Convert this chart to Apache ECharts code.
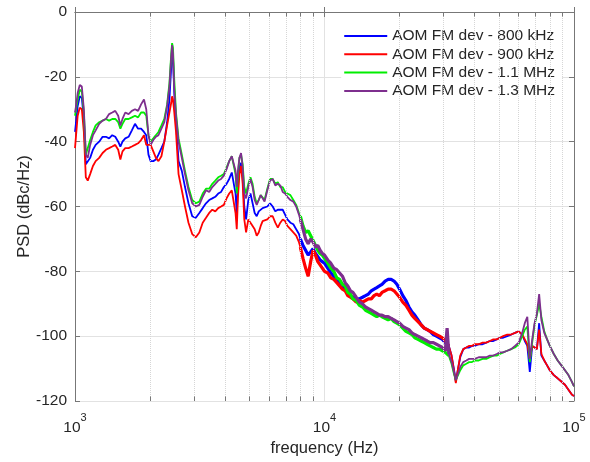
<!DOCTYPE html>
<html>
<head>
<meta charset="utf-8">
<script src="https://cdn.jsdelivr.net/npm/echarts@6/dist/echarts.min.js"></script>
</head>
<body style="margin: 0">
<div id="container" style="width: 590px; height: 462px"></div>
<script>
// frequency grid (Hz) shared by all four traces
var freqs = [
  1000, 1010, 1025, 1045, 1065, 1085, 1105, 1125, 1150, 1180,
  1210, 1250, 1290, 1330, 1370, 1410, 1450, 1490, 1520, 1550,
  1590, 1640, 1690, 1740, 1790, 1840, 1890, 1930, 1970, 2010,
  2060, 2110, 2160, 2220, 2280, 2340, 2390, 2430, 2450, 2470,
  2500, 2540,
  2600, 2680, 2760, 2850, 2950, 3050, 3150, 3250, 3350, 3450,
  3550, 3650, 3750, 3850, 3950, 4050, 4150, 4250, 4320, 4400,
  4450, 4500, 4560, 4630, 4700, 4770, 4850, 4950, 5050, 5150,
  5250, 5350, 5450, 5550, 5650, 5750, 5900, 6050, 6200, 6350,
  6500, 6650, 6800, 6950, 7100, 7300, 7500, 7700, 7900, 8000,
  8200, 8400, 8600, 8800, 9000, 9200, 9400, 9600, 9800, 10000,
  10300, 10600, 10900, 11200, 11500, 11800, 12100, 12400, 12700, 13000,
  13400, 13800, 14200, 14600, 15000, 15400, 15800, 16200, 16600, 17000,
  17500, 18000, 18500, 19000, 19500, 20000, 20600, 21200, 21800, 22400,
  23000, 23700, 24400, 25100, 25800, 26500, 27300, 28100, 28900, 29700,
  30500, 31000, 31500, 32300, 33000, 33600, 34300, 35000, 36000, 37000,
  38000, 39000, 40000, 41500, 43000, 44500, 46000, 47500, 49000, 50500,
  52000, 54000, 56000, 58000, 60000, 62000, 63500, 65000, 66500, 68000,
  69500, 71000, 72500, 74000, 76000, 78000, 80000, 83000, 86000, 89000,
  92000, 95000, 98000, 100000
];

// PSD values (dBc/Hz)
var dev800 = [
  -37, -34, -29, -26, -26.5, -33, -47, -47.5, -45, -42.5,
  -41, -40, -38.5, -38.5, -39, -38, -38.5, -40, -41.5, -40,
  -39, -38.5, -36.5, -34.5, -36, -36, -37, -38, -44, -46,
  -46, -45.5, -44, -42, -40, -34, -27, -17, -11, -14,
  -25, -34,
  -46, -49, -54, -59, -63, -63.5, -62, -60.5, -59, -58,
  -57.5, -57, -56, -55.5, -54, -53, -51.5, -49.5, -49, -56,
  -62, -54, -48, -46.5, -51, -60, -64, -58, -56, -59,
  -62, -63, -61.5, -61, -60.5, -61, -60, -59, -60, -61.5,
  -61, -61, -61, -62.5, -64, -65, -65.5, -67, -68.5, -70,
  -72, -73.5, -75, -74, -73, -74.5, -75.5, -76.5, -77, -77.5,
  -79, -80.5, -81.5, -82.5, -84, -84.5, -85.5, -86, -87.5, -88,
  -88.5, -88.5, -88, -87.5, -87, -86, -85.5, -85, -84.5, -84,
  -83, -82.5, -82.5, -83, -84, -85.5, -87.5, -89, -91, -92.5,
  -93.5, -95, -96.5, -97.5, -98, -98.5, -99.5, -100, -100.5, -101,
  -102, -102, -103, -106, -110, -114, -110, -106.5, -104, -103.5,
  -103.5, -103, -103, -102.5, -102.5, -102, -101.5, -101.5, -101, -100.5,
  -100.5, -100, -99.5, -99, -98.5, -99.5, -101.5, -103, -111, -103,
  -103.5, -104, -96, -106, -107.5, -109, -110.5, -112, -113, -114,
  -115, -116.5, -118, -118.5
];

var dev900 = [
  -42, -38, -32, -29.5, -30, -37, -51, -52, -50, -47.5,
  -46, -45, -43.5, -42.5, -42, -41.5, -41, -42.5, -45.5, -43,
  -42, -42, -41.5, -41, -40.5, -39.5, -38, -41, -41, -41,
  -43, -45, -46, -44.5, -40, -35, -31, -28, -26, -27,
  -31, -37,
  -50, -55, -60, -65, -68.5, -69.5, -68, -65, -63.5, -62,
  -61, -61.5, -60.5, -60, -59.5, -57.5, -56, -55, -54.5, -62,
  -67, -57, -50, -47.5, -53, -64, -68, -64, -65, -66,
  -67, -69, -68, -66, -64.5, -65, -64, -63, -63, -65,
  -66.5, -65, -64, -64.5, -66, -67, -68, -69, -71, -72.5,
  -76, -79, -81.5, -77, -73.5, -75, -77, -78, -79, -80,
  -80.5, -82, -82.5, -83.5, -84.5, -85.5, -86, -87.5, -88, -88.5,
  -89.5, -89, -89.5, -89, -88.5, -88.5, -87.5, -87, -87.5, -86.5,
  -86, -85.5, -85.5, -86, -87, -88, -89.5, -90.5, -92, -93.5,
  -94.5, -95.5, -96.5, -97.5, -98, -98.5, -99, -99.5, -100, -100.5,
  -101.5, -102, -103, -106, -110.5, -114.5, -110, -106, -104, -103.5,
  -103, -103, -102.5, -102.5, -102, -102, -101.5, -101, -101, -100.5,
  -100, -99.5, -99.5, -99, -98.5, -99.5, -101, -102.5, -107, -103,
  -103.5, -104, -98, -105.5, -107.5, -109, -110.5, -112, -113, -114,
  -115, -116.5, -118, -118.5
];

var dev1100 = [
  -32, -30, -27, -24, -24.5, -31, -44, -44, -39.5, -37,
  -35, -34, -33.5, -33, -33.5, -33, -33, -34, -36, -34.5,
  -33, -33, -32.5, -32, -32.5, -31, -31, -32, -38, -40,
  -39, -38, -37, -35, -33, -28.5, -22, -13, -9.6, -11,
  -21, -31,
  -39, -44, -49, -54, -58, -59, -58.5, -56, -54.5, -54.5,
  -53, -52, -51, -50.5, -50, -48, -46, -44.5, -44, -50,
  -56, -50, -45, -44, -47, -54, -56, -53, -51, -53,
  -57, -59, -58, -56.5, -57, -58, -54.5, -51.5, -51.5, -53,
  -52.5, -54, -54, -55.5, -56, -56.5, -58, -59.5, -62, -63,
  -66, -68, -67.5, -69, -70.5, -72, -73.5, -74.5, -75, -76,
  -77.5, -79, -80, -82, -82.5, -84, -84.5, -86.5, -87, -88.5,
  -89, -90.5, -91, -92, -92.5, -93, -93.5, -94, -93.5, -94,
  -94.5, -95, -94.5, -95.5, -96, -96.5, -97.5, -98.5, -99, -99.5,
  -100.5, -101, -101.5, -102, -102.5, -103, -103.5, -104, -104, -104.5,
  -105, -104.5, -106, -108.5, -111.5, -113.5, -112, -110.5, -109, -108.5,
  -108, -108, -107.5, -107.5, -107, -107, -106.5, -106, -106, -105.5,
  -105, -104.5, -104, -103.5, -102.5, -100, -98, -97, -108, -102,
  -96.5, -93.5, -90, -94, -98.5, -101, -103, -105.5, -107.5, -109,
  -110.5, -112, -114, -115.5
];

var dev1300 = [
  -31, -29, -25, -22.5, -23, -30, -44, -45, -41, -38,
  -36.5, -34.5, -33.5, -33, -31.5, -31, -30.5, -32, -35, -33,
  -31, -31.5, -30.5, -30, -30.5, -28.5, -27, -30, -38, -41,
  -39.5, -38.5, -38, -36, -34, -29, -23, -14, -10.2, -13,
  -24, -32,
  -40, -45, -50, -55, -59, -60, -59.5, -57, -55, -55.5,
  -54, -53, -52, -51.5, -50.5, -48.5, -46, -44.5, -44, -49,
  -54, -49, -45, -43.5, -48, -56, -57.5, -54, -51.5, -54,
  -58, -59.5, -58, -56.5, -57.5, -58.5, -55, -52, -51.5, -53.5,
  -53, -53.5, -55.5, -56, -57, -58, -58.5, -60, -62.5, -64,
  -67, -70, -71.5, -70, -71, -72.5, -72, -73.5, -74.5, -75,
  -76.5, -77.5, -79, -79.5, -80.5, -81.5, -83.5, -84.5, -86, -86.5,
  -88, -89.5, -90, -91, -91.5, -92, -92.5, -93, -93.5, -93.5,
  -94, -94, -94.5, -95, -95.5, -96, -97, -97.5, -98, -99,
  -99.5, -100, -100.5, -101, -101.5, -102, -102, -102.5, -103, -103.5,
  -104.5, -97.5, -105.5, -108, -111, -113.5, -111.5, -109.5, -108, -107.5,
  -107, -107, -107, -106.5, -106.5, -106.5, -106, -106, -105.5, -105,
  -105, -104.5, -104, -103, -102, -99, -96, -94, -107, -101,
  -96, -93, -87, -95, -99, -101, -103, -105.5, -107.5, -109,
  -110.5, -112, -114, -115.5
];

var seriesNames = ['AOM FM dev - 800 kHz', 'AOM FM dev - 900 kHz', 'AOM FM dev - 1.1 MHz', 'AOM FM dev - 1.3 MHz'];
var seriesValues = [dev800, dev900, dev1100, dev1300];
var seriesColors = ['#0000ff', '#ff0000', '#00ee00', '#7e2f8e'];

// between these frequencies the measured traces are noisy and look like thick bands
var noisyFrom = 8000;
var noisyTo = 32000;

// minor grid positions 2..9 in each decade
var minorFreqs = [];
[1000, 10000].forEach(function (d) {
  for (var k = 2; k <= 9; k++) minorFreqs.push(k * d);
});

var textColor = '#262626';
var axisColor = '#777';
var font = 'Liberation Sans';

var myChart = echarts.init(document.getElementById('container'));

var series = [{
  // helper: dotted minor grid + minor ticks
  type: 'line',
  data: [],
  silent: true,
  markLine: {
    silent: true,
    symbol: ['none', 'none'],
    label: { show: false },
    animation: false,
    data: minorFreqs.map(function (f) {
      return { xAxis: f, lineStyle: { color: '#d6d6d6', type: 'dotted', width: 1 } };
    }).concat(minorFreqs.map(function (f) {
      return [{ coord: [f, -120], lineStyle: { color: axisColor, type: 'solid', width: 1 } }, { coord: [f, -118.6] }];
    })).concat(minorFreqs.map(function (f) {
      return [{ coord: [f, 0], lineStyle: { color: axisColor, type: 'solid', width: 1 } }, { coord: [f, -1.4] }];
    }))
  }
}];

seriesNames.forEach(function (name, i) {
  var pts = freqs.map(function (f, j) { return [f, seriesValues[i][j]]; });
  series.push({
    name: name,
    type: 'line',
    symbol: 'none',
    showSymbol: false,
    color: seriesColors[i],
    lineStyle: { width: 1.8, color: seriesColors[i] },
    data: pts
  });
  // same trace again, drawn thicker where the data is noisy
  series.push({
    name: name,
    type: 'line',
    symbol: 'none',
    showSymbol: false,
    color: seriesColors[i],
    lineStyle: { width: 3.2, color: seriesColors[i] },
    data: pts.filter(function (p) { return p[0] >= noisyFrom && p[0] <= noisyTo; })
  });
});

myChart.setOption({
  animation: false,
  backgroundColor: '#fff',
  textStyle: { fontFamily: font },
  grid: { left: 75, right: 16, top: 12, bottom: 59 },
  legend: {
    data: seriesNames,
    orient: 'vertical',
    right: 28,
    top: 22,
    padding: [5, 7, 8, 3],
    backgroundColor: '#fff',
    icon: 'rect',
    itemWidth: 43,
    itemHeight: 2,
    itemGap: 0.3,
    textStyle: { fontSize: 15.5, lineHeight: 18, color: textColor, fontFamily: font }
  },
  xAxis: [{
    type: 'log',
    logBase: 10,
    min: 1000,
    max: 100000,
    position: 'bottom',
    axisLine: { lineStyle: { color: axisColor } },
    axisTick: { inside: true, length: 5, lineStyle: { color: axisColor } },
    splitLine: { show: true, lineStyle: { color: '#e2e2e2' } },
    axisLabel: {
      margin: 11,
      formatter: function (v) {
        var e = Math.round(Math.log(v) / Math.LN10);
        return '{b|10}{e|' + e + '}';
      },
      rich: {
        b: { fontSize: 15.5, color: textColor, fontFamily: font, padding: [8, 0, 0, 0], verticalAlign: 'bottom' },
        e: { fontSize: 11, color: textColor, fontFamily: font, verticalAlign: 'top' }
      }
    },
    name: 'frequency (Hz)',
    nameLocation: 'middle',
    nameGap: 39,
    nameMoveOverlap: false,
    nameTextStyle: { fontSize: 16.5, color: textColor, fontFamily: font }
  }, {
    type: 'log',
    logBase: 10,
    min: 1000,
    max: 100000,
    position: 'top',
    axisLine: { lineStyle: { color: axisColor } },
    axisTick: { inside: true, length: 5, lineStyle: { color: axisColor } },
    axisLabel: { show: false },
    splitLine: { show: false }
  }],
  yAxis: [{
    type: 'value',
    min: -120,
    max: 0,
    interval: 20,
    axisLine: { show: true, lineStyle: { color: axisColor } },
    axisTick: { show: true, inside: true, length: 5, lineStyle: { color: axisColor } },
    splitLine: { show: true, lineStyle: { color: '#e2e2e2' } },
    axisLabel: { fontSize: 15.5, color: textColor, margin: 8 },
    name: 'PSD (dBc/Hz)',
    nameLocation: 'middle',
    nameGap: 42,
    nameMoveOverlap: false,
    nameTextStyle: { fontSize: 16.5, color: textColor, fontFamily: font }
  }, {
    type: 'value',
    min: -120,
    max: 0,
    interval: 20,
    position: 'right',
    axisLine: { show: true, lineStyle: { color: axisColor } },
    axisTick: { show: true, inside: true, length: 5, lineStyle: { color: axisColor } },
    splitLine: { show: false },
    axisLabel: { show: false }
  }],
  series: series
});
</script>
</body>
</html>
